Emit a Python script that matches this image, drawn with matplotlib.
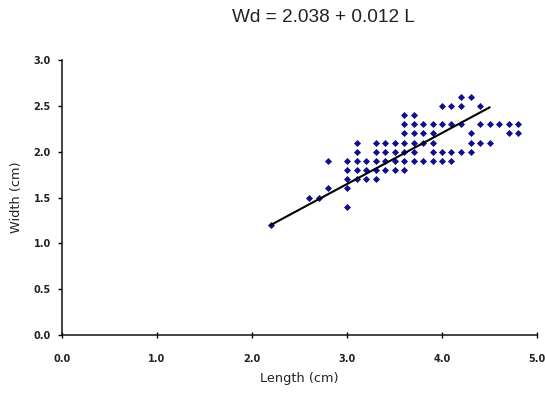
import matplotlib
matplotlib.use("Agg")
import matplotlib.pyplot as plt
import numpy as np

# data: each width level with the lengths seen on it
width_levels = [2.6, 2.5, 2.4, 2.3, 2.2, 2.1, 2.0, 1.9, 1.8, 1.7, 1.6, 1.5, 1.4, 1.2]
lengths_at_level = [
    [4.2, 4.3],
    [4.0, 4.1, 4.2, 4.4],
    [3.6, 3.7],
    [3.6, 3.7, 3.8, 3.9, 4.0, 4.1, 4.2, 4.4, 4.5, 4.6, 4.7, 4.8],
    [3.6, 3.7, 3.8, 3.9, 4.3, 4.7, 4.8],
    [3.1, 3.3, 3.4, 3.5, 3.6, 3.7, 3.8, 3.9, 4.3, 4.4, 4.5],
    [3.1, 3.3, 3.4, 3.5, 3.6, 3.7, 3.9, 4.0, 4.1, 4.2, 4.3],
    [2.8, 3.0, 3.1, 3.2, 3.3, 3.4, 3.5, 3.6, 3.7, 3.8, 3.9, 4.0, 4.1],
    [3.0, 3.1, 3.2, 3.3, 3.4, 3.5, 3.6],
    [3.0, 3.1, 3.2, 3.3],
    [2.8, 3.0],
    [2.6, 2.7],
    [3.0],
    [2.2],
]

# trend line as drawn
trend_x = [2.2, 4.5]
trend_intercept = -0.024
trend_slope = 0.557

x_ticks = [0.0, 1.0, 2.0, 3.0, 4.0, 5.0]
y_ticks = [0.0, 0.5, 1.0, 1.5, 2.0, 2.5, 3.0]

length = []
width = []
for w, ls in zip(width_levels, lengths_at_level):
    for l in ls:
        length.append(l)
        width.append(w)

plt.rcParams['font.family'] = ['DejaVu Sans']

fig = plt.figure(figsize=(5.45, 3.94), dpi=100)
ax = fig.add_axes([62 / 545, 59 / 394, 475 / 545, 275 / 394])

ax.scatter(length, width, marker='D', s=13, color='#10108a', linewidths=0, zorder=3)

tx = np.array(trend_x)
ax.plot(tx, trend_intercept + trend_slope * tx, color='black', lw=1.5, zorder=4)

ax.set_xlim(0, 5)
ax.set_ylim(0, 3)
ax.set_xticks(x_ticks)
ax.set_yticks(y_ticks)
ax.set_xticklabels([f"{v:.1f}" for v in x_ticks])
ax.set_yticklabels([f"{v:.1f}" for v in y_ticks])

for side in ['top', 'right']:
    ax.spines[side].set_visible(False)
for side in ['left', 'bottom']:
    ax.spines[side].set_linewidth(1.1)
    ax.spines[side].set_color('#111111')

ax.tick_params(axis='y', direction='out', length=3, width=1, pad=5,
               labelsize=7, labelcolor='#222222')
ax.tick_params(axis='x', direction='inout', length=5, width=1, pad=11,
               labelsize=7, labelcolor='#222222')
for lab in ax.get_xticklabels() + ax.get_yticklabels():
    lab.set_fontweight('bold')
    lab.set_clip_on(False)

ax.set_xlabel('Length (cm)', fontsize=9.3, labelpad=6, color='#222222')
ax.set_ylabel('Width (cm)', fontsize=9.3, labelpad=8, color='#222222')

fig.text(323 / 545, 1 - 18 / 394, 'Wd = 2.038 + 0.012 L', ha='center', va='center',
         fontsize=13.7, color='#222222', family='Liberation Sans')

fig.savefig('out.png', dpi=100)
